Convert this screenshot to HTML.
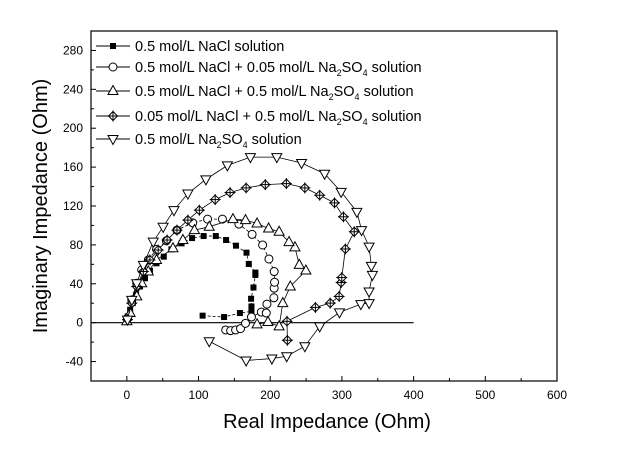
<!DOCTYPE html>
<html><head><meta charset="utf-8"><style>
body{margin:0;background:#fff;}
svg{display:block;font-family:"Liberation Sans",Arial,sans-serif;}
</style></head><body>
<svg id="chart" width="629" height="450" viewBox="0 0 629 450" xmlns="http://www.w3.org/2000/svg">
<rect x="0" y="0" width="629" height="450" fill="#fff"/>
<g id="plot"></g>
</svg>
<script>
const xTicks=[0,100,200,300,400,500,600];
const yTicks=[-40,0,40,80,120,160,200,240,280];
const seriesNames=["0.5 mol/L NaCl solution","0.5 mol/L NaCl + 0.05 mol/L Na2SO4 solution","0.5 mol/L NaCl + 0.5 mol/L Na2SO4 solution","0.05 mol/L NaCl + 0.5 mol/L Na2SO4 solution","0.5 mol/L Na2SO4 solution"];
const nacl=[[105.7,7.2],[135.6,5.8],[157.7,9.9],[173.8,11.6],[173.8,16.7],[173.3,24.6],[176.6,36.2],[179.3,49.1],[179.3,51.5],[170.1,60.4],[166.9,72],[152.2,79.2],[138.4,85],[124.1,89.1],[107.1,89.1],[91,87],[76.3,81.6],[62.1,75.4],[51.5,67.9],[41.4,61.1],[32.2,53.2],[25.3,45.7],[18.4,37.2],[12.9,28.7],[8.3,20.1],[4.6,13.3],[1.4,6.5],[0,1.4]];
const mix1=[[137.9,-7.5],[144.8,-8.2],[151.7,-7.5],[158.6,-6.1],[165.5,-0.7],[173.8,5.8],[187.6,10.9],[194.5,9.9],[195.4,19.1],[205.1,25.6],[205.5,35.5],[206,41.6],[205.5,52.6],[198.2,65.5],[189.4,79.9],[174.7,90.8],[156.3,101.4],[133.3,106.5],[112.6,106.5],[91.9,102.7],[69.9,95.2],[55.2,84.3],[41.4,75.4],[29.9,64.5],[20.7,54.3],[13.8,40.6],[6.9,23.5],[0.9,4.8]];
const mix2=[[181.6,-1.7],[196.8,0.7],[212.4,-3.8],[217.5,20.1],[228,37.2],[249.7,53.6],[240.5,59.4],[234.5,77.5],[226.2,82.9],[212.4,93.5],[197.7,96.9],[181.6,102],[165.5,105.5],[148,106.5],[114.9,98.6],[94.3,95.2],[78.2,85],[64.4,76.5],[41.4,64.5],[29.9,52.6],[20.7,40.6],[13.8,27],[4.6,9.9],[0,1.4]];
const mix3=[[223.9,-18.1],[223.4,1.4],[263,15.7],[283.7,20.1],[296.1,27],[298.9,41.3],[299.8,46.4],[304.8,75.8],[317.2,93.5],[302.1,108.9],[289.7,123.2],[269,131.1],[248.3,138.6],[222.5,143],[193.1,142],[166.4,138.6],[143.9,133.8],[123.2,126.6],[101.1,115.7],[85.1,105.5],[69.9,95.2],[56.1,85],[43.7,74.7],[32.2,64.5],[23,52.6],[13.8,37.2],[6.9,20.1],[0.9,3.1]];
const na2so4=[[114.9,-19.1],[166.4,-38.9],[202.3,-36.9],[223,-34.5],[248.3,-24.2],[269,-3.8],[296.6,10.6],[326.4,19.1],[337.9,20.1],[337.9,32.1],[342.5,49.1],[341.1,58.4],[337.9,78.2],[327.4,95.2],[320.9,114],[298.9,134.5],[275.9,153.2],[243.7,164.2],[209.2,170.3],[172.4,170.3],[140.2,161.8],[110.3,147.4],[85.1,132.8],[65.7,115.7],[50.6,98.6],[36.8,83.3],[23,59.4],[13.8,40.6],[6.9,23.5],[0.9,3.1]];

const L=91,R=557,T=31,B=381,XMIN=-50,XMAX=600,YMIN=-60,YMAX=300;
function sx(v){return L+(v-XMIN)/(XMAX-XMIN)*(R-L);}
function sy(v){return B-(v-YMIN)/(YMAX-YMIN)*(B-T);}
const NS="http://www.w3.org/2000/svg";
const g=document.getElementById('plot');
function mk(tag,attrs,parent){const e=document.createElementNS(NS,tag);for(const k in attrs)e.setAttribute(k,attrs[k]);(parent||g).appendChild(e);return e;}

let fr=mk('rect',{x:L,y:T,width:R-L,height:B-T,fill:'none',stroke:'#000','stroke-width':1.2});


for(let v=-50;v<=600;v+=50){const maj=v%100===0;let t=mk('line',{x1:sx(v),x2:sx(v),y1:B,y2:B-(maj?5:3),stroke:'#000'});

}
xTicks.forEach(v=>{let t=mk('text',{x:sx(v),y:B+18,'text-anchor':'middle','font-size':12});t.textContent=v;

});
for(let v=-60;v<=300;v+=20){const maj=v%40===0;let t=mk('line',{x1:L,x2:L+(maj?5:3),y1:sy(v),y2:sy(v),stroke:'#000'});

}
yTicks.forEach(v=>{let t=mk('text',{x:L-8,y:sy(v)+4,'text-anchor':'end','font-size':12});t.textContent=v;

});
let zl=mk('line',{x1:L,x2:sx(400),y1:sy(0),y2:sy(0),stroke:'#000','stroke-width':1.2});


let xt=mk('text',{x:327,y:428,'text-anchor':'middle','font-size':20});xt.textContent='Real Impedance (Ohm)';


let yt=mk('text',{x:0,y:0,'text-anchor':'middle','font-size':20,transform:'translate(47,206) rotate(-90)'});yt.textContent='Imaginary Impedance (Ohm)';



function marker(type,x,y,parent){
 const s=4.5;
 if(type==='sq'){return mk('rect',{x:x-3,y:y-3,width:6,height:6,fill:'#000'},parent);}
 if(type==='ci'){return mk('circle',{cx:x,cy:y,r:4,fill:'#fff',stroke:'#000'},parent);}
 if(type==='tu'){return mk('polygon',{points:`${x},${y-s-1} ${x-s-0.5},${y+s-1} ${x+s+0.5},${y+s-1}`,fill:'#fff',stroke:'#000'},parent);}
 if(type==='td'){return mk('polygon',{points:`${x},${y+s+1} ${x-s-0.5},${y-s+1} ${x+s+0.5},${y-s+1}`,fill:'#fff',stroke:'#000'},parent);}
 const gg=mk('g',{},parent);
 mk('polygon',{points:`${x},${y-s} ${x+s},${y} ${x},${y+s} ${x-s},${y}`,fill:'#fff',stroke:'#000'},gg);
 mk('line',{x1:x-s-1,x2:x+s+1,y1:y,y2:y,stroke:'#000'},gg);
 mk('line',{x1:x,x2:x,y1:y-s-1,y2:y+s+1,stroke:'#000'},gg);
 return gg;
}
const allSeries=[[nacl,'sq'],[mix1,'ci'],[mix2,'tu'],[mix3,'di'],[na2so4,'td']];
allSeries.forEach(([data,type],i)=>{
 const sg=mk('g',{});
 
 
 let p=mk('polyline',{points:data.map(d=>sx(d[0])+','+sy(d[1])).join(' '),fill:'none',stroke:'#000','stroke-width':0.8,'stroke-dasharray':i<2?'3,2':'none'},sg);
 
 
 data.forEach(d=>{let m=marker(type,sx(d[0]),sy(d[1]),sg);
 
 });
});
const legY=[46,67,91,116,139];
const legLabels=[
 '0.5 mol/L NaCl solution',
 '0.5 mol/L NaCl + 0.05 mol/L Na<tspan font-size="9" dy="4">2</tspan><tspan dy="-4">SO</tspan><tspan font-size="9" dy="4">4</tspan><tspan dy="-4"> solution</tspan>',
 '0.5 mol/L NaCl + 0.5 mol/L Na<tspan font-size="9" dy="4">2</tspan><tspan dy="-4">SO</tspan><tspan font-size="9" dy="4">4</tspan><tspan dy="-4"> solution</tspan>',
 '0.05 mol/L NaCl + 0.5 mol/L Na<tspan font-size="9" dy="4">2</tspan><tspan dy="-4">SO</tspan><tspan font-size="9" dy="4">4</tspan><tspan dy="-4"> solution</tspan>',
 '0.5 mol/L Na<tspan font-size="9" dy="4">2</tspan><tspan dy="-4">SO</tspan><tspan font-size="9" dy="4">4</tspan><tspan dy="-4"> solution</tspan>'];
const types=['sq','ci','tu','di','td'];
legY.forEach((y,i)=>{
 const lg=mk('g',{});
 
 
 mk('line',{x1:96,x2:130,y1:y,y2:y,stroke:'#000'},lg);
 marker(types[i],113,y,lg);
 const t=mk('text',{x:135,y:y+5,'font-size':14.5},lg);
 t.innerHTML=legLabels[i];
});
</script>
</body></html>
